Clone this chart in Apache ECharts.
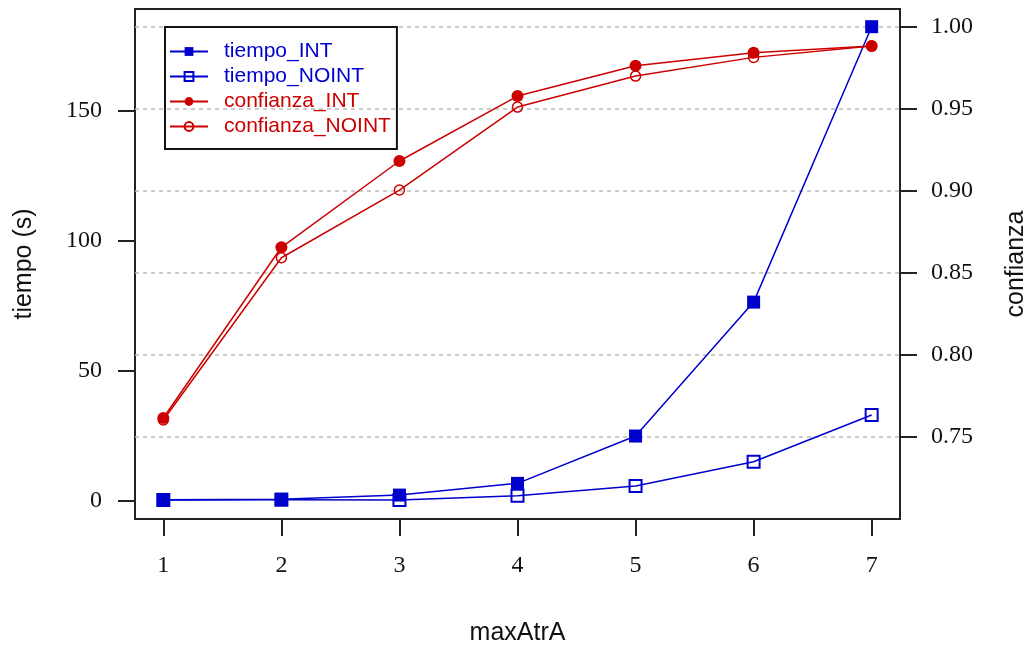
<!DOCTYPE html>
<html>
<head>
    <meta charset="UTF-8">
    <title>tiempo y confianza vs maxAtrA</title>
    <script src="https://cdn.jsdelivr.net/npm/echarts@6/dist/echarts.min.js"></script>
    <style>
        body { margin: 0; padding: 0; background: #fff; }
        #chart { width: 1028px; height: 649px; }
    </style>
</head>
<body>
<div id="chart"></div>
<script>
    // datos
    var maxAtrA = [1, 2, 3, 4, 5, 6, 7];
    var tiempoINT = [0.3, 0.5, 2.1, 6.6, 24.8, 76.3, 182.2];
    var tiempoNOINT = [0.2, 0.3, 0.2, 1.8, 5.6, 14.9, 32.9];
    var confianzaINT = [0.7616, 0.8657, 0.9183, 0.9579, 0.9764, 0.9843, 0.9884];
    var confianzaNOINT = [0.7604, 0.8593, 0.9006, 0.9512, 0.9701, 0.9815, 0.9884];
    var tiempoTicks = [0, 50, 100, 150];
    var confTicks = [0.75, 0.80, 0.85, 0.90, 0.95, 1.00];

    var azul = '#0000cd';
    var rojo = '#cd0000';
    var serif = '"Liberation Serif", "Times New Roman", serif';
    var sans = '"Liberation Sans", Arial, sans-serif';

    function pares(ys) {
        return maxAtrA.map(function (x, i) { return [x, ys[i]]; });
    }

    var chart = echarts.init(document.getElementById('chart'), null, {renderer: 'canvas'});

    var option = {
        animation: false,
        backgroundColor: '#fff',
        grid: {
            left: 135, right: 128, top: 9, bottom: 130,
            outerBoundsMode: 'none', containLabel: false,
            show: true, borderColor: '#222', borderWidth: 2, backgroundColor: 'transparent'
        },
        legend: {
            orient: 'vertical',
            left: 165, top: 27,
            padding: [14, 6, 12, 4],
            borderColor: '#111', borderWidth: 2,
            itemWidth: 38, itemHeight: 11, itemGap: 4,
            textStyle: {fontFamily: sans, fontSize: 21, lineHeight: 21, padding: [0, 0, 0, 11]},
            data: [
                {name: 'tiempo_INT', textStyle: {color: azul}},
                {name: 'tiempo_NOINT', textStyle: {color: azul}},
                {name: 'confianza_INT', textStyle: {color: rojo}},
                {name: 'confianza_NOINT', textStyle: {color: rojo}}
            ]
        },
        xAxis: {
            type: 'value', min: 0.76, max: 7.24,
            name: 'maxAtrA', nameLocation: 'middle', nameGap: 102,
            nameTextStyle: {fontFamily: sans, fontSize: 25, color: '#111'},
            axisLine: {show: false, onZero: false},
            axisTick: {show: true, inside: false, length: 17, customValues: maxAtrA,
                lineStyle: {color: '#222', width: 2}},
            axisLabel: {customValues: maxAtrA, margin: 35, fontFamily: serif, fontSize: 24, color: '#111'},
            splitLine: {show: false}
        },
        yAxis: [
            {
                type: 'value', min: -7.1, max: 189.0, position: 'left',
                name: 'tiempo (s)', nameLocation: 'middle', nameGap: 98, nameRotate: 90,
                nameTextStyle: {fontFamily: sans, fontSize: 25, color: '#111'},
                axisLine: {show: false, onZero: false},
                axisTick: {show: true, length: 17, customValues: tiempoTicks,
                    lineStyle: {color: '#222', width: 2}},
                axisLabel: {customValues: tiempoTicks, margin: 33, fontFamily: serif, fontSize: 24, color: '#111'},
                splitLine: {show: false}
            },
            {
                type: 'value', min: 0.700, max: 1.011, position: 'right',
                name: 'confianza', nameLocation: 'middle', nameGap: 104, nameRotate: 90,
                nameTextStyle: {fontFamily: sans, fontSize: 25, color: '#111'},
                axisLine: {show: false, onZero: false},
                axisTick: {show: true, length: 17, customValues: confTicks,
                    lineStyle: {color: '#222', width: 2}},
                axisLabel: {customValues: confTicks, margin: 31, fontFamily: serif, fontSize: 24, color: '#111',
                    formatter: function (v) { return v.toFixed(2); }},
                splitLine: {show: true, lineStyle: {color: '#bbb', width: 1.5, type: [4, 4]}}
            }
        ],
        series: [
            {
                name: 'tiempo_INT', type: 'line', yAxisIndex: 0, data: pares(tiempoINT),
                symbol: 'rect', symbolSize: 13,
                lineStyle: {color: azul, width: 1.5},
                itemStyle: {color: azul}
            },
            {
                name: 'tiempo_NOINT', type: 'line', yAxisIndex: 0, data: pares(tiempoNOINT),
                symbol: 'rect', symbolSize: 12,
                lineStyle: {color: azul, width: 1.5},
                itemStyle: {color: 'rgba(0,0,0,0)', borderColor: azul, borderWidth: 2}
            },
            {
                name: 'confianza_INT', type: 'line', yAxisIndex: 1, data: pares(confianzaINT),
                symbol: 'circle', symbolSize: 12,
                lineStyle: {color: rojo, width: 1.5},
                itemStyle: {color: rojo}
            },
            {
                name: 'confianza_NOINT', type: 'line', yAxisIndex: 1, data: pares(confianzaNOINT),
                symbol: 'circle', symbolSize: 10,
                lineStyle: {color: rojo, width: 1.5},
                itemStyle: {color: 'rgba(0,0,0,0)', borderColor: rojo, borderWidth: 1.5}
            }
        ]
    };
    chart.setOption(option);
</script>
</body>
</html>
